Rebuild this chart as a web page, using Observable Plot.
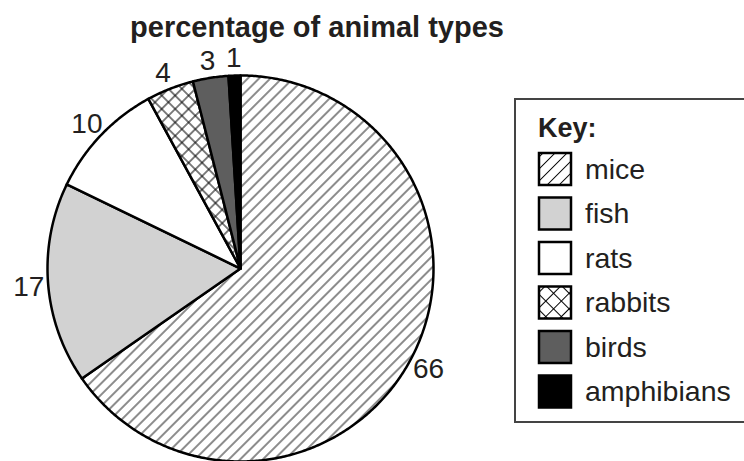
<!DOCTYPE html>
<html><head><meta charset="utf-8">
<script src="https://cdn.jsdelivr.net/npm/d3@7"></script>
<script src="https://cdn.jsdelivr.net/npm/@observablehq/plot@0.6"></script>
<style>
body{margin:0;background:#fff;font-family:"Liberation Sans",Arial,Helvetica,sans-serif;color:#231f20;}
#wrap{position:relative;width:744px;height:461px;overflow:hidden;background:#fff;}
#title{width:634px;height:48px;line-height:54px;text-align:center;font-weight:bold;font-size:29px;color:#231f20;}
#legend{position:absolute;left:514px;top:98px;width:240px;height:325px;box-sizing:border-box;border:2px solid #444;background:#fff;}
#legend svg{display:block;}
</style></head>
<body>
<div id="wrap">
  <div id="title">percentage of animal types</div>
  <div id="chart"></div>
  <div id="legend"></div>
</div>
<script>
// ---- data ----
const categories = ["mice", "fish", "rats", "rabbits", "birds", "amphibians"];
const values = [66, 17, 10, 4, 3, 1];
const labels = ["66", "17", "10", "4", "3", "1"];
const fills = ["url(#hatch)", "#d2d2d2", "#ffffff", "url(#cross)", "#5e5e5e", "#000000"];
const legendFills = ["url(#hatchL)", "#d2d2d2", "#ffffff", "url(#crossL)", "#5e5e5e", "#000000"];

// ---- layout ----
const W = 744, H = 413, R = 193, CX = 240, CY = 220;
const data = categories.map((c, i) => ({name: c, value: values[i], label: labels[i], fill: fills[i]}));
const arcs = d3.pie().sort(null).value(d => d.value)(data);

function slicePoints(a) {
  const pts = [{x: 0, y: 0}];
  const n = Math.max(2, Math.ceil((a.endAngle - a.startAngle) / (Math.PI / 360)));
  for (let k = 0; k <= n; k++) {
    const t = a.startAngle + (a.endAngle - a.startAngle) * k / n;
    pts.push({x: Math.sin(t), y: Math.cos(t)});
  }
  return pts;
}
const labelR = 1.1;
const labelData = arcs.map(a => {
  const m = (a.startAngle + a.endAngle) / 2;
  return {x: labelR * Math.sin(m), y: labelR * Math.cos(m), text: a.data.label};
});

const svg = Plot.plot({
  width: W, height: H,
  marginTop: 0, marginRight: 0, marginBottom: 0, marginLeft: 0,
  x: {domain: [-CX / R, (W - CX) / R], axis: null},
  y: {domain: [-(H - CY) / R, CY / R], axis: null},
  style: {background: "transparent", overflow: "visible"},
  marks: [
    ...arcs.map(a => Plot.line(slicePoints(a), {
      x: "x", y: "y", curve: "linear-closed",
      fill: a.data.fill, stroke: "#000", strokeWidth: 2.5, strokeLinejoin: "round"
    })),
    Plot.text(labelData, {x: "x", y: "y", text: "text", fontSize: 28, dy: 2,
      fill: "#231f20", fontFamily: "Liberation Sans, Arial, sans-serif"})
  ]
});

function addPatterns(sel, suffix, spacing, crossSpacing) {
  const defs = sel.insert("defs", ":first-child");
  const h = defs.append("pattern").attr("id", "hatch" + suffix)
    .attr("patternUnits", "userSpaceOnUse").attr("width", spacing).attr("height", spacing)
    .attr("patternTransform", "rotate(45)");
  h.append("rect").attr("width", spacing).attr("height", spacing).attr("fill", "#fff");
  h.append("line").attr("x1", spacing / 2).attr("x2", spacing / 2).attr("y1", 0).attr("y2", spacing)
    .attr("stroke", "#000").attr("stroke-width", 0.9);
  const s = crossSpacing;
  const c = defs.append("pattern").attr("id", "cross" + suffix)
    .attr("patternUnits", "userSpaceOnUse").attr("width", s).attr("height", s)
    .attr("patternTransform", "rotate(45)");
  c.append("rect").attr("width", s).attr("height", s).attr("fill", "#fff");
  c.append("line").attr("x1", s / 2).attr("x2", s / 2).attr("y1", 0).attr("y2", s)
    .attr("stroke", "#000").attr("stroke-width", 1);
  c.append("line").attr("y1", s / 2).attr("y2", s / 2).attr("x1", 0).attr("x2", s)
    .attr("stroke", "#000").attr("stroke-width", 1);
}
addPatterns(d3.select(svg), "", 8, 9.5);
document.getElementById("chart").appendChild(svg);

// ---- legend ----
const lg = d3.select("#legend").append("svg").attr("width", 240).attr("height", 325)
  .style("font-family", "Liberation Sans, Arial, sans-serif");
addPatterns(lg, "L", 8.5, 11);
lg.append("text").attr("x", 22).attr("y", 37).attr("font-size", 27).attr("font-weight", "bold")
  .attr("fill", "#231f20").text("Key:");
const items = lg.selectAll("g.item").data(categories).join("g")
  .attr("transform", (d, i) => `translate(22,${52 + i * 44.5})`);
items.append("rect").attr("x", 1).attr("y", 1).attr("width", 32).attr("height", 32)
  .attr("fill", (d, i) => legendFills[i]).attr("stroke", "#000").attr("stroke-width", 2.5);
items.append("text").attr("x", 47).attr("y", 17).attr("dy", "0.35em").attr("font-size", 28.5)
  .attr("fill", "#231f20").text(d => d);
</script>
</body></html>
